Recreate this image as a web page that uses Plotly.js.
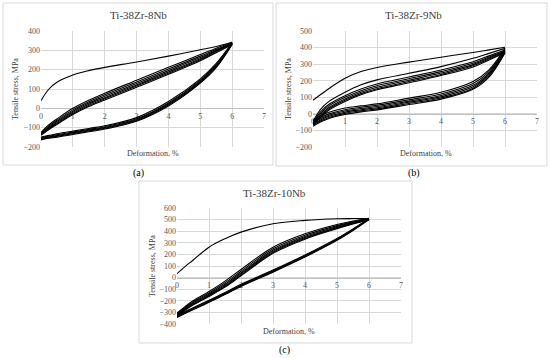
<!DOCTYPE html>
<html><head><meta charset="utf-8">
<script src="https://cdn.plot.ly/plotly-3.0.1.min.js"></script>
<style>html,body{margin:0;padding:0;background:#fff}#chart{width:550px;height:358px}</style>
</head><body><div id="chart"></div>
<script>
// strain grid, %
const strain = [0, 0.25, 0.5, 1, 1.5, 2, 3, 4, 5, 5.5, 6];
const xTicks = [0, 1, 2, 3, 4, 5, 6, 7];

// (a) Ti-38Zr-8Nb
const aLoad1 = [40, 100, 135, 172, 195, 212, 240, 270, 303, 320, 342];
const aR1 = [-125, -85, -55, 0, 42, 78, 145, 212, 278, 311, 342];
const aR2 = [-128, -92, -62, -8, 34, 70, 136, 203, 270, 305, 338];
const aR3 = [-131, -97, -68, -15, 27, 62, 128, 195, 263, 299, 336];
const aR4 = [-134, -102, -74, -21, 21, 55, 121, 188, 257, 296, 334];
const aR5 = [-137, -106, -79, -27, 15, 49, 115, 182, 251, 292, 332];
const aR6 = [-140, -110, -84, -32, 9, 43, 109, 176, 246, 288, 330];
const aU1 = [-148, -140, -132, -118, -104, -90, -48, 35, 152, 232, 340];
const aU2 = [-152, -144, -137, -123, -109, -95, -54, 28, 146, 226, 337];
const aU3 = [-156, -148, -141, -127, -113, -99, -59, 22, 140, 220, 334];
const aU4 = [-160, -152, -145, -131, -117, -103, -63, 17, 135, 215, 332];
const aU5 = [-163, -155, -149, -135, -121, -107, -67, 12, 130, 210, 330];

// (b) Ti-38Zr-9Nb
const bLoad1 = [82, 118, 153, 215, 255, 280, 312, 342, 370, 386, 402];
const bR1 = [-45, 30, 75, 130, 175, 205, 245, 285, 335, 365, 395];
const bR2 = [-50, 15, 58, 110, 150, 180, 222, 265, 315, 350, 385];
const bR3 = [-55, 5, 48, 100, 140, 170, 212, 255, 305, 343, 380];
const bR4 = [-60, -5, 38, 90, 130, 160, 203, 246, 297, 337, 376];
const bR5 = [-64, -12, 30, 82, 122, 152, 195, 238, 290, 331, 372];
const bR6 = [-68, -18, 23, 75, 115, 145, 188, 231, 283, 325, 368];
const bU1 = [-40, -10, 10, 35, 48, 60, 95, 130, 195, 265, 395];
const bU2 = [-48, -20, 0, 25, 40, 52, 85, 120, 183, 255, 388];
const bU3 = [-55, -28, -8, 17, 32, 44, 77, 111, 172, 246, 382];
const bU4 = [-62, -35, -15, 10, 25, 37, 70, 103, 163, 238, 377];
const bU5 = [-68, -42, -22, 3, 18, 30, 63, 96, 155, 230, 372];
const bU6 = [-75, -48, -28, -4, 12, 24, 56, 89, 148, 222, 368];

// (c) Ti-38Zr-10Nb
const cLoad1 = [34, 95, 150, 262, 335, 392, 464, 493, 507, 509, 510];
const cR1 = [-305, -250, -200, -120, -30, 70, 262, 378, 458, 488, 512];
const cR2 = [-312, -258, -210, -132, -45, 55, 248, 365, 448, 481, 508];
const cR3 = [-318, -265, -218, -142, -57, 42, 236, 355, 440, 476, 506];
const cR4 = [-323, -271, -225, -150, -67, 32, 226, 346, 433, 471, 504];
const cR5 = [-328, -277, -231, -157, -75, 23, 217, 338, 427, 466, 502];
const cR6 = [-333, -282, -237, -163, -82, 15, 209, 331, 421, 462, 500];
const cU1 = [-325, -292, -260, -195, -128, -58, 65, 195, 338, 420, 510];
const cU2 = [-332, -299, -267, -202, -135, -65, 58, 188, 332, 415, 506];
const cU3 = [-338, -305, -273, -208, -141, -71, 52, 182, 326, 410, 503];
const cU4 = [-343, -310, -278, -213, -146, -76, 47, 177, 321, 406, 500];

const titles = ['Ti-38Zr-8Nb', 'Ti-38Zr-9Nb', 'Ti-38Zr-10Nb'];
const panelLabels = ['(a)', '(b)', '(c)'];
const yTitle = 'Tensile stress, MPa';
const xTitle = 'Deformation, %';

const W = 550, H = 358;
const fx = v => v / W, fy = v => 1 - v / H;
const serif = 'Liberation Serif, Times New Roman, serif';

const panels = [
  {curves: [aLoad1, aR1, aR2, aR3, aR4, aR5, aR6, aU1, aU2, aU3, aU4, aU5], yr: [-200, 400],
   box: [41, 264, 31, 147], border: [3, 273, 3, 165], t: [138, 15], l: [138, 173], yt: [15, 89], xt: [153, 153]},
  {curves: [bLoad1, bR1, bR2, bR3, bR4, bR5, bR6, bU1, bU2, bU3, bU4, bU5, bU6], yr: [-200, 500],
   box: [313, 537, 31, 147], border: [276, 547, 3, 166], t: [413, 15], l: [414, 173], yt: [288, 89], xt: [426, 153]},
  {curves: [cLoad1, cR1, cR2, cR3, cR4, cR5, cR6, cU1, cU2, cU3, cU4], yr: [-400, 600],
   box: [177, 401, 208, 324], border: [139, 412, 181, 343], t: [274, 193], l: [284, 350], yt: [152, 266], xt: [289, 331]}
];

const traces = [], shapes = [], annotations = [];
const layout = {
  width: W, height: H, margin: {l: 0, r: 0, t: 0, b: 0},
  paper_bgcolor: '#fff', plot_bgcolor: 'rgba(0,0,0,0)', showlegend: false,
  shapes, annotations
};

panels.forEach((p, i) => {
  const sfx = i === 0 ? '' : String(i + 1);
  p.curves.forEach(c => traces.push({
    x: strain, y: c, type: 'scatter', mode: 'lines',
    xaxis: 'x' + sfx, yaxis: 'y' + sfx,
    line: {color: '#000', width: 1.1, shape: 'spline', smoothing: 1}, hoverinfo: 'skip'
  }));
  const yd = [fy(p.box[3]), fy(p.box[2])];
  const xd = [fx(p.box[0]), fx(p.box[1])];
  const zeroPos = yd[0] + (0 - p.yr[0]) / (p.yr[1] - p.yr[0]) * (yd[1] - yd[0]);
  layout['xaxis' + sfx] = {
    domain: xd, range: [0, 7], tickvals: xTicks, anchor: 'free', position: zeroPos,
    showgrid: true, gridcolor: '#d9d9d9', gridwidth: 1, zeroline: false,
    showline: true, linecolor: '#bfbfbf', linewidth: 1, ticks: '', layer: 'below traces',
    tickfont: {family: serif, size: 8, color: '#595959'}, fixedrange: true
  };
  layout['yaxis' + sfx] = {
    domain: yd, range: p.yr, dtick: 100, anchor: 'x' + sfx,
    showgrid: true, gridcolor: '#d9d9d9', gridwidth: 1, zeroline: false, showline: false,
    ticks: '', tickfont: {family: serif, size: 8, color: '#595959'}, fixedrange: true, layer: 'below traces'
  };
  shapes.push({type: 'rect', xref: 'paper', yref: 'paper',
    x0: fx(p.border[0]), x1: fx(p.border[1]), y0: fy(p.border[3]), y1: fy(p.border[2]),
    line: {color: '#d9d9d9', width: 1}, layer: 'below'});
  annotations.push({text: titles[i], xref: 'paper', yref: 'paper', x: fx(p.t[0]), y: fy(p.t[1]),
    xanchor: 'center', yanchor: 'middle', showarrow: false, font: {family: serif, size: 11, color: '#404040'}});
  annotations.push({text: panelLabels[i], xref: 'paper', yref: 'paper', x: fx(p.l[0]), y: fy(p.l[1]),
    xanchor: 'center', yanchor: 'middle', showarrow: false, font: {family: serif, size: 10, color: '#000'}});
  annotations.push({text: yTitle, xref: 'paper', yref: 'paper', x: fx(p.yt[0]), y: fy(p.yt[1]), textangle: -90,
    xanchor: 'center', yanchor: 'middle', showarrow: false, font: {family: serif, size: 8, color: '#404040'}});
  annotations.push({text: xTitle, xref: 'paper', yref: 'paper', x: fx(p.xt[0]), y: fy(p.xt[1]),
    xanchor: 'center', yanchor: 'middle', showarrow: false, font: {family: serif, size: 8, color: '#404040'}});
});

Plotly.newPlot('chart', traces, layout, {staticPlot: true});
</script></body></html>
